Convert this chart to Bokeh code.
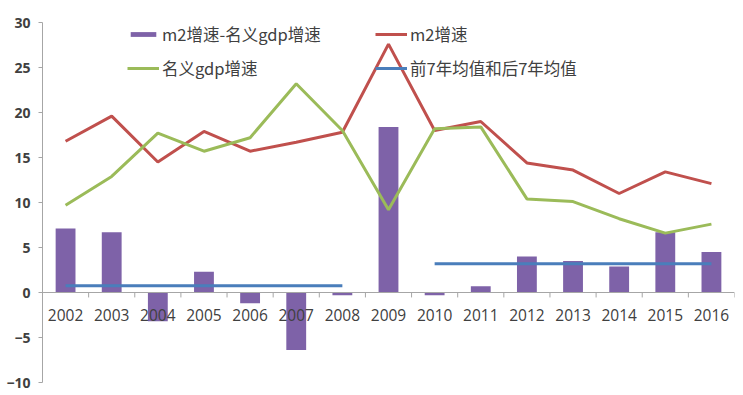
from bokeh.plotting import figure
from bokeh.models import Range1d, Span, Legend, LegendItem, ColumnDataSource
from bokeh.transform import dodge
from bokeh.core.properties import value
from bokeh.embed import file_html
from bokeh.resources import INLINE

years = ["2002", "2003", "2004", "2005", "2006", "2007", "2008", "2009",
         "2010", "2011", "2012", "2013", "2014", "2015", "2016"]
m2_minus_gdp = [7.1, 6.7, -3.2, 2.3, -1.2, -6.4, -0.3, 18.4,
                -0.3, 0.7, 4.0, 3.5, 2.9, 6.7, 4.5]
m2_growth = [16.8, 19.6, 14.5, 17.9, 15.7, 16.7, 17.8, 27.6,
             18.0, 19.0, 14.4, 13.6, 11.0, 13.4, 12.1]
gdp_growth = [9.7, 12.9, 17.7, 15.7, 17.2, 23.2, 18.0, 9.2,
              18.2, 18.4, 10.4, 10.1, 8.2, 6.6, 7.6]
mean_first_years = years[:7]
mean_first = [0.75] * 7
mean_last_years = years[8:]
mean_last = [3.2] * 7
yticks = [-10, -5, 0, 5, 10, 15, 20, 25, 30]

BAR = "#7E62A8"
RED = "#C0504D"
GREEN = "#9BBB59"
BLUE = "#4A7EBB"
TXT = "#404040"
AX = "#A6A6A6"

p = figure(x_range=years, y_range=Range1d(-10, 30), width=737, height=393,
           output_backend="svg", toolbar_location=None,
           min_border_left=42, min_border_top=22, min_border_bottom=11,
           min_border_right=3)
p.outline_line_color = None
p.grid.visible = False
p.xaxis.visible = False

ya = p.yaxis[0]
ya.ticker = yticks
ya.axis_line_color = AX
ya.major_tick_line_color = AX
ya.major_tick_out = 4
ya.major_tick_in = 0
ya.minor_tick_line_color = None
ya.major_label_text_font = "Open Sans"
ya.major_label_text_font_size = "14px"
ya.major_label_text_font_style = "bold"
ya.major_label_text_color = TXT
ya.major_label_standoff = 8

p.add_layout(Span(location=0, dimension="width", line_color=AX, line_width=1))

src = ColumnDataSource(dict(year=years, d=m2_minus_gdp, m2=m2_growth,
                            gdp=gdp_growth, zero=[0] * len(years),
                            tick=[-0.55] * len(years)))

bars = p.vbar(x="year", top="d", width=0.43, source=src, fill_color=BAR,
              line_color=None)
# category boundary ticks on the zero axis
p.segment(x0=dodge("year", 0.5, range=p.x_range), y0="zero",
          x1=dodge("year", 0.5, range=p.x_range), y1="tick", source=src,
          line_color=AX, line_width=1)
p.text(x="year", y="zero", text="year", source=src, y_offset=22,
       text_align="center", text_baseline="middle",
       text_font=value("Open Sans"), text_font_size="15.5px",
       text_color=TXT)

r_m2 = p.line(x="year", y="m2", source=src, line_color=RED, line_width=3)
r_gdp = p.line(x="year", y="gdp", source=src, line_color=GREEN, line_width=3)
r_mean1 = p.line(x=mean_first_years, y=mean_first, line_color=BLUE, line_width=3)
p.line(x=mean_last_years, y=mean_last, line_color=BLUE, line_width=3)

def mk_legend(items, loc):
    lg = Legend(items=items, location=loc, border_line_color=None,
                background_fill_alpha=0, glyph_width=32, glyph_height=6,
                label_height=18, spacing=10, padding=0, margin=0,
                label_standoff=3,
                label_text_font="Noto Sans CJK SC",
                label_text_font_size="16.5px", label_text_color=TXT)
    return lg

lg1 = mk_legend([LegendItem(label="m2增速-名义gdp增速", renderers=[bars]),
                 LegendItem(label="名义gdp增速", renderers=[r_gdp])], (85, 302))
lg2 = mk_legend([LegendItem(label="m2增速", renderers=[r_m2]),
                 LegendItem(label="前7年均值和后7年均值", renderers=[r_mean1])], (333, 302))
p.add_layout(lg1)
p.add_layout(lg2)

open("out.html", "w").write(file_html(p, INLINE))
